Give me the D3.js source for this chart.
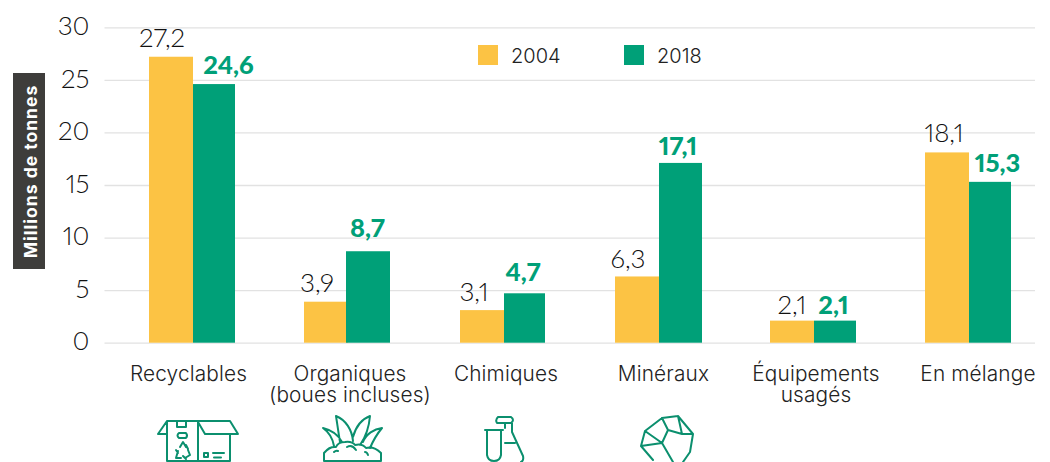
<!DOCTYPE html>
<html><head><meta charset="utf-8">
<script src="https://cdn.jsdelivr.net/npm/d3@7/dist/d3.min.js"></script>
<style>html,body{margin:0;padding:0;background:#fff;overflow:hidden}svg{display:block}text{font-family:Lato,sans-serif;font-variant-numeric:proportional-nums;font-feature-settings:"pnum" 1}</style>
</head><body><svg id="c" width="1050" height="462"></svg>
<script>
const categories=["Recyclables","Organiques\n(boues incluses)","Chimiques","Minéraux","Équipements\nusagés","En mélange"];
const years=["2004","2018"];
const values2004=[27.2,3.9,3.1,6.3,2.1,18.1];
const values2018=[24.6,8.7,4.7,17.1,2.1,15.3];
const yTicks=[0,5,10,15,20,25,30];
const yTitle="Millions de tonnes";
const colors=["#fcc344","#00a078"];
// layout nudges (pixels), separate from the data
const nudgeX=[[-9,-9,-8,-9,0,-3],[13.5,-2.5,-3,-3,-2.5,6.5]];
const gapY=[[10,10,9,8,7,10],[10,14,12,8,7,10]];
const greenShift=[0,-2,0,0,0,0], greenExtra=[-2,0,-3,-1,-2,-2];
const labelShift=[-4.5,2,2,4.5,2,9];
const fr=v=>v.toFixed(1).replace(".",",");
const svg=d3.select("#c");
const y=d3.scaleLinear().domain([0,30]).range([342.7,27.3]);
const x=d3.scaleBand().domain(categories).range([115.6,1046.6]).paddingInner(.433).paddingOuter(.2165);
const xs=d3.scaleBand().domain(years).range([0,x.bandwidth()]);
// grid + y axis
const gy=svg.append("g").attr("transform","translate(104.5,0)").call(d3.axisLeft(y).tickValues(yTicks).tickSize(-930.5).tickPadding(15).tickFormat(d3.format("d")));
gy.select(".domain").remove();
gy.selectAll(".tick line").attr("stroke","#e2e2e2").attr("stroke-width",1.3);
gy.selectAll(".tick text").attr("font-size",26).attr("font-weight",300).attr("fill","#111").attr("dy","0.28em").style("font-family","Lato");
// bars
const groups=svg.append("g").selectAll("g").data(categories).join("g").attr("transform",d=>`translate(${Math.round(x(d))},0)`);
[values2004,values2018].forEach((vals,k)=>{
  groups.append("rect").attr("x",(d,i)=>Math.round(xs(years[k]))+(k?greenShift[i]:0)).attr("width",(d,i)=>Math.round(xs.bandwidth())+(k?greenExtra[i]:0))
    .attr("y",(d,i)=>y(vals[i])).attr("height",(d,i)=>y(0)-y(vals[i])).attr("fill",colors[k]);
});
[values2004,values2018].forEach((vals,k)=>{
  groups.append("text").attr("x",(d,i)=>xs(years[k])+xs.bandwidth()/2+nudgeX[k][i])
    .attr("y",(d,i)=>y(vals[i])-gapY[k][i]).attr("text-anchor","middle")
    .attr("font-size",k?25.5:26).attr("font-weight",k?900:300).attr("fill",k?colors[1]:"#111")
    .text((d,i)=>fr(vals[i]));
});
// x labels
groups.each(function(d,i){
  const t=d3.select(this).append("text").attr("text-anchor","middle").attr("font-size",20.8).attr("letter-spacing",.15).attr("fill","#222").attr("font-weight",300).style("font-family","Inter");
  d.split("\n").forEach((s,j)=>t.append("tspan").attr("x",x.bandwidth()/2+labelShift[i]).attr("y",381+j*21).text(s));
});
// legend
const lg=svg.append("g").selectAll("g").data(years).join("g").attr("transform",(d,i)=>`translate(${478+i*146},45)`);
lg.append("rect").attr("width",20).attr("height",20).attr("fill",(d,i)=>colors[i]);
lg.append("text").attr("x",33).attr("y",18).attr("font-size",20).attr("font-weight",300).attr("fill","#222").style("font-family","Inter").text(d=>d);
// y title
svg.append("rect").attr("x",13).attr("y",73).attr("width",32).attr("height",196).attr("fill","#3e3d3b");
svg.append("text").attr("transform","translate(36.5,171.5) rotate(-90)").attr("text-anchor","middle").attr("font-size",17.5).attr("letter-spacing",1).attr("font-weight",700).attr("fill","#fff").style("font-family","Inter").text(yTitle);
// icons (decorative pictograms, cropped by the page edge)
const ic=svg.append("g").attr("fill","none").attr("stroke","#0b8f6e").attr("stroke-width",2).attr("stroke-linejoin","round").attr("stroke-linecap","round");
const icons=[
 // box
 "M158 434L167 421H230L238 434H205L198 422M158 434H167M167 421V461H230V434M198 422V461M177 421V427H186V421M179 433H186Q188 435.500 186 438H179Q176 435.500 179 433ZM204 453H208V457H204ZM213 453H224M214 457.500H221",
 // recycling symbol
 "M180 447L183 442L186 447M188 450L190 455L185 458M181 458H176L178 451M186 445L188 449M178 453L176 450M183 456L186 459",
 // grass
 "M324 461V453Q330 446 336 447Q338 442 345 442Q352 441 355 445Q362 443 366 448Q374 446 381 453V461ZM340 442C338 430 337 422 336 416C346 420 352 430 353 441M353 437C356 426 362 419 370 416C369 428 365 438 360 445M342 442C338 434 331 430 323 428C330 433 333 440 334 446M363 442C366 434 374 429 382 428C377 434 373 441 370 448M334 452Q336 450 338 451M347 447Q352 444 356 450M365 452Q367 452 368 455",
 // tube and flask
 "M485 430H503M487 430V455Q488 461 494 461Q500 461 501 455V430M498 417H511Q515 420 511 423H497Q495 420 498 417M505 423V428M512 423V432L523 456Q524 461 521 462M505 443H515",
 // rock
 "M645 431L662 418L678 416L693 434L690 452L683 462M645 431L641 446L653 460M662 418L668 430L682 434L678 416M682 434H693M668 430L662 443L645 431M641 446L662 443L673 462"
];
icons.forEach(p=>ic.append("path").attr("d",p));
</script></body></html>
